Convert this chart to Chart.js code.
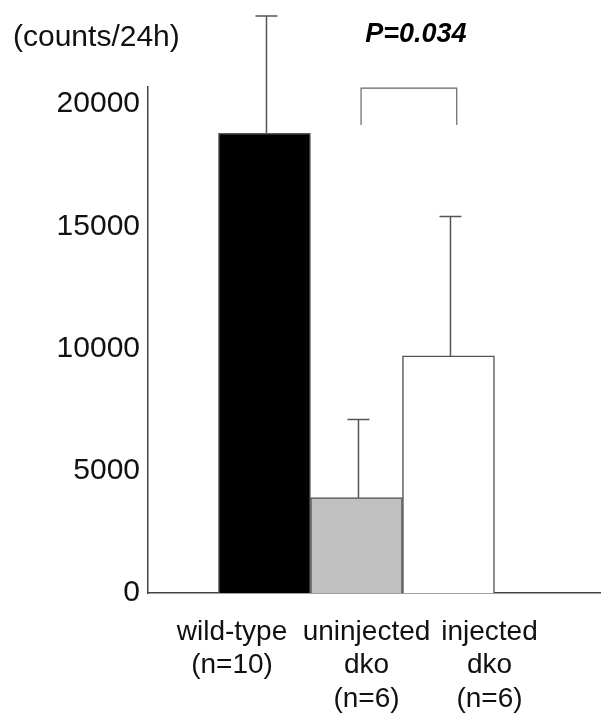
<!DOCTYPE html>
<html>
<head>
<meta charset="utf-8">
<script src="https://cdn.jsdelivr.net/npm/chart.js@4.4.1/dist/chart.umd.min.js"></script>
<style>
  html, body { margin: 0; padding: 0; background: #fff; }
  #wrap { width: 604px; height: 715px; }
</style>
</head>
<body>
<div id="wrap"><canvas id="myChart"></canvas></div>
<script>
// values
const groups = [['wild-type', '(n=10)'], ['uninjected', 'dko', '(n=6)'], ['injected', 'dko', '(n=6)']];
const groupX = [1, 2, 3];
const means = [18800, 3900, 9700];
const errTops = [23600, 7100, 15400];
const barColors = ['#000000', '#c0c0c0', '#ffffff'];
const yTicks = [0, 5000, 10000, 15000, 20000];
const yMax = 20700;

// significance bracket between uninjected and injected
const bracketX = [2.05, 3.09];
const bracketY = [19150, 20650];
const pLabel = 'P=0.034';

// where the group labels sit on the x axis (they are not under the bar centres)
const labelAt = [0.647, 2.109, 3.446];

const family = "'Liberation Sans', Arial, Helvetica, sans-serif";

const errorBars = {
  id: 'errorBars',
  afterDatasetsDraw(chart) {
    const { ctx, scales: { x, y } } = chart;
    ctx.save();
    ctx.strokeStyle = '#555';
    ctx.lineWidth = 1.5;
    groupX.forEach((gx, i) => {
      const px = x.getPixelForValue(gx) + 2;
      const top = y.getPixelForValue(errTops[i]);
      const base = y.getPixelForValue(means[i]);
      ctx.beginPath();
      ctx.moveTo(px, base);
      ctx.lineTo(px, top);
      ctx.moveTo(px - 11, top);
      ctx.lineTo(px + 11, top);
      ctx.stroke();
    });

    // bracket
    const bl = x.getPixelForValue(bracketX[0]);
    const br = x.getPixelForValue(bracketX[1]);
    const bb = y.getPixelForValue(bracketY[0]);
    const bt = y.getPixelForValue(bracketY[1]);
    ctx.strokeStyle = '#666';
    ctx.lineWidth = 1.2;
    ctx.beginPath();
    ctx.moveTo(bl, bb);
    ctx.lineTo(bl, bt);
    ctx.lineTo(br, bt);
    ctx.lineTo(br, bb);
    ctx.stroke();

    ctx.fillStyle = '#000';
    ctx.font = 'italic bold 27px ' + family;
    ctx.textAlign = 'center';
    ctx.textBaseline = 'middle';
    ctx.fillText(pLabel, (bl + br) / 2 + 7, bt - 54);
    ctx.restore();
  }
};

const ctx = document.getElementById('myChart');

new Chart(ctx, {
  type: 'bar',
  data: {
    datasets: [{
      data: groupX.map((gx, i) => ({ x: gx, y: means[i] })),
      backgroundColor: barColors,
      borderColor: '#555',
      borderWidth: 1.5,
      barPercentage: 1,
      categoryPercentage: 1
    }]
  },
  options: {
    responsive: true,
    maintainAspectRatio: false,
    animation: false,
    layout: { padding: { left: 13, right: 4, top: 0, bottom: 0 } },
    plugins: {
      legend: { display: false },
      tooltip: { enabled: false },
      title: {
        display: true,
        text: '(counts/24h)',
        align: 'start',
        color: '#111',
        font: { size: 30, family: family, weight: 'normal', lineHeight: 1.2 },
        padding: { top: 20, bottom: 31 }
      }
    },
    scales: {
      x: {
        type: 'linear',
        offset: false,
        min: -0.266,
        max: 4.647,
        grid: { display: false, drawTicks: false },
        border: { color: '#444', width: 1.5 },
        afterBuildTicks: (scale) => {
          scale.ticks = labelAt.map((v) => ({ value: v }));
        },
        afterFit: (scale) => {
          scale.height = 122;
        },
        ticks: {
          color: '#111',
          font: { size: 28, family: family, lineHeight: 1.2 },
          padding: 22,
          maxRotation: 0,
          autoSkip: false,
          callback: (v, i) => groups[i]
        }
      },
      y: {
        min: 0,
        max: yMax,
        grid: { display: false, drawTicks: false },
        border: { color: '#444', width: 1.5 },
        afterBuildTicks: (scale) => {
          scale.ticks = yTicks.map((v) => ({ value: v }));
        },
        afterFit: (scale) => {
          scale.width = 135;
        },
        ticks: {
          color: '#111',
          font: { size: 30, family: family },
          padding: 8,
          callback: (v) => String(v)
        }
      }
    }
  },
  plugins: [errorBars]
});
</script>
</body>
</html>
